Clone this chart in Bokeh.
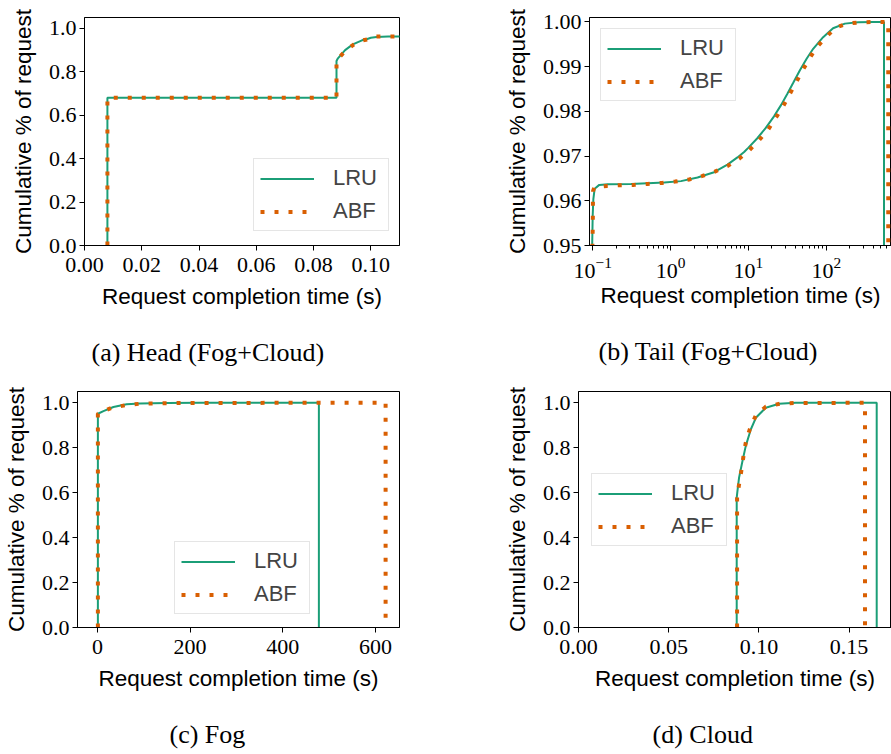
from bokeh.plotting import figure
from bokeh.models import (Range1d, Legend, LegendItem, Title, FixedTicker,
                          CustomJSTickFormatter, LogTickFormatter)
from bokeh.layouts import column, row
from bokeh.embed import file_html
from bokeh.resources import INLINE

# ---------------- data ----------------
# Fog+Cloud combined (panels a and b show the same distribution)
fc_lru_t = [0.008, 0.008, 0.088, 0.088, 0.0885, 0.091, 0.0937, 0.0969, 0.0985,
            0.100, 0.102, 0.106, 0.1215, 0.156, 0.31, 0.83, 1.36, 2.22, 3.62,
            5.38, 7.22, 8.8, 10.0, 13.0, 16.7, 21.3, 26.2, 31.5, 37.6, 45.8,
            55.6, 67.8, 91.0, 122.0, 173.0, 256.0, 400.0, 550.0, 550.0]
fc_lru_cdf = [0.0, 0.68, 0.68, 0.85, 0.862, 0.90, 0.926, 0.945, 0.95,
              0.9567, 0.9604, 0.9627, 0.96356, 0.96371, 0.96378, 0.9641, 0.9644,
              0.9652, 0.9664, 0.9681, 0.9697, 0.9709, 0.9719, 0.9740, 0.9763,
              0.9789, 0.9814, 0.9839, 0.9864, 0.9892, 0.9917, 0.9940, 0.9966,
              0.9986, 0.99963, 0.99993, 1.0, 1.0, 0.0]
fc_abf_t = [0.008, 0.008, 0.088, 0.088, 0.0885, 0.0912, 0.094, 0.097, 0.0995,
            0.1002, 0.1005, 0.1007, 0.1012, 0.105, 0.1525, 0.2307, 0.341, 0.507,
            0.774, 1.146, 1.73, 2.57, 3.70, 5.38, 7.59, 10.2, 13.7, 18.0, 22.8,
            28.1, 33.8, 40.4, 49.2, 59.8, 72.9, 98.0, 131.5, 186.0, 275.0, 429.0,
            624.0, 624.0]
fc_abf_cdf = [0.0, 0.68, 0.68, 0.85, 0.86, 0.898, 0.925, 0.944, 0.9513, 0.9542,
              0.957, 0.9596, 0.9622, 0.9630, 0.96333, 0.96349, 0.96356, 0.96378,
              0.9640, 0.9643, 0.96476, 0.96556, 0.96653, 0.96778, 0.9694, 0.97127,
              0.97356, 0.9760, 0.97874, 0.98126, 0.98385, 0.98630, 0.98911,
              0.99160, 0.9941, 0.99652, 0.99874, 0.99963, 0.99993, 1.0, 1.0, 0.0]

# Fog only
fog_lru_t = [1.0, 1.0, 13.0, 34.5, 63.0, 92.0, 150.0, 222.0, 478.0, 478.0]
fog_lru_cdf = [0.0, 0.951, 0.963, 0.981, 0.993, 0.997, 0.9985, 1.0, 1.0, 0.0]
fog_abf_t = [1.0, 1.0, 12.0, 32.4, 61.9, 92.0, 121.0, 180.0, 622.0, 622.0]
fog_abf_cdf = [0.0, 0.951, 0.962, 0.978, 0.9896, 0.9956, 0.997, 0.999, 1.0, 0.0]

# Cloud only
cloud_lru_t = [0.0877, 0.0877, 0.0881, 0.089, 0.0909, 0.0927, 0.0955, 0.0983,
               0.1038, 0.1112, 0.1204, 0.1653, 0.1653]
cloud_lru_cdf = [0.0, 0.578, 0.607, 0.667, 0.741, 0.807, 0.881, 0.933, 0.978,
                 0.9956, 1.0, 1.0, 0.0]
cloud_abf_t = [0.0879, 0.0879, 0.089, 0.0903, 0.0914, 0.0927, 0.0949, 0.0983,
               0.1038, 0.1116, 0.1195, 0.1588, 0.1588]
cloud_abf_cdf = [0.0, 0.578, 0.637, 0.699, 0.76, 0.822, 0.881, 0.944, 0.982,
                 0.9956, 0.9985, 1.0, 0.0]

series_names = ["LRU", "ABF"]
captions = ["(a) Head (Fog+Cloud)", "(b) Tail (Fog+Cloud)", "(c) Fog", "(d) Cloud"]
x_label = "Request completion time (s)"
y_label = "Cumulative % of request"

ticks_a_x = [0.0, 0.02, 0.04, 0.06, 0.08, 0.10]
ticks_unit_y = [0.0, 0.2, 0.4, 0.6, 0.8, 1.0]
ticks_b_x = [0.1, 1.0, 10.0, 100.0]
ticks_b_y = [0.95, 0.96, 0.97, 0.98, 0.99, 1.00]
ticks_c_x = [0, 200, 400, 600]
ticks_d_x = [0.0, 0.05, 0.10, 0.15]

# ---------------- styling ----------------
LRU_COLOR = "#1b9e77"
ABF_COLOR = "#d95f02"
SERIF = "Liberation Serif"
SANS = "Liberation Sans"


def fixed_fmt(d):
    return CustomJSTickFormatter(code="return tick.toFixed(%d);" % d)


def panel(width, height, borders, xr, yr, xticks, yticks, xfmt, yfmt,
          lru, abf, legend_loc, caption, cap_offset, x_type="linear",
          minor=None, xlabel_standoff=9):
    l, r, t, b = borders
    p = figure(width=width, height=height, x_range=Range1d(*xr),
               y_range=Range1d(*yr), x_axis_type=x_type,
               output_backend="svg", toolbar_location=None,
               min_border_left=l, min_border_right=r,
               min_border_top=t, min_border_bottom=b)
    p.grid.visible = False
    p.outline_line_color = "black"
    p.outline_line_alpha = 1.0
    p.outline_line_width = 1
    p.background_fill_color = "white"
    p.border_fill_color = "white"

    for ax in p.axis:
        ax.axis_line_color = "black"
        ax.axis_line_width = 1
        ax.major_tick_line_color = "black"
        ax.major_tick_out = 5
        ax.major_tick_in = 0
        ax.minor_tick_line_color = None
        ax.major_label_text_font = SERIF
        ax.major_label_text_font_size = "22px"
        ax.major_label_text_color = "black"
        ax.axis_label_text_font = SANS
        ax.axis_label_text_font_size = "22.5px"
        ax.axis_label_text_font_style = "normal"
        ax.axis_label_text_color = "black"

    p.xaxis.axis_label = x_label
    p.yaxis.axis_label = y_label
    p.xaxis.major_label_standoff = 7
    p.yaxis.major_label_standoff = 3
    p.xaxis.axis_label_standoff = xlabel_standoff
    p.yaxis.axis_label_standoff = 10

    if minor is not None:
        p.xaxis.ticker = FixedTicker(ticks=xticks, minor_ticks=minor)
        p.xaxis.minor_tick_line_color = "black"
        p.xaxis.minor_tick_out = 3
        p.xaxis.minor_tick_in = 0
    else:
        p.xaxis.ticker = FixedTicker(ticks=xticks)
    p.yaxis.ticker = FixedTicker(ticks=yticks)
    p.xaxis.formatter = xfmt
    p.yaxis.formatter = yfmt

    r1 = p.line(lru[0], lru[1], line_color=LRU_COLOR, line_width=2)
    r2 = p.line(abf[0], abf[1], line_color=ABF_COLOR, line_width=4,
                line_dash="4 10")

    legend = Legend(items=[LegendItem(label=series_names[0], renderers=[r1]),
                           LegendItem(label=series_names[1], renderers=[r2])],
                    location=legend_loc)
    legend.label_text_font = SANS
    legend.label_text_font_size = "22px"
    legend.glyph_width = 54
    legend.glyph_height = 23
    legend.label_height = 23
    legend.label_width = 49
    legend.label_standoff = 19
    legend.spacing = 7
    legend.padding = 6
    legend.margin = 0
    legend.border_line_color = "#cccccc"
    legend.border_line_width = 1
    legend.background_fill_color = "white"
    legend.background_fill_alpha = 0.8
    p.add_layout(legend, "center")

    # gap between the axis label and the sub-caption
    p.add_layout(Title(text=" ", text_font_size="7px"), "below")
    p.add_layout(Title(text=caption, align="left", offset=cap_offset,
                       text_font=SERIF, text_font_size="26px",
                       text_font_style="normal", text_color="black"), "below")
    return p


minor_log = [m * d for d in (0.1, 1.0, 10.0, 100.0) for m in range(2, 10)]

pa = panel(445, 377, (84, 46, 8, 132), (0.0, 0.11), (0.0, 1.05),
           ticks_a_x, ticks_unit_y, fixed_fmt(2), fixed_fmt(1),
           (fc_lru_t, fc_lru_cdf), (fc_abf_t, fc_abf_cdf),
           (169, 14), captions[0], 7)

pb = panel(446, 377, (144, 0, 17, 130), (0.091, 687.0), (0.95, 1.001),
           ticks_b_x, ticks_b_y, LogTickFormatter(), fixed_fmt(2),
           (fc_lru_t, fc_lru_cdf), (fc_abf_t, fc_abf_cdf),
           (11, 144), captions[1], 9, x_type="log", minor=minor_log,
           xlabel_standoff=2)

pc = panel(445, 377, (77, 46, 14, 127), (-43.0, 652.0), (0.0, 1.05),
           ticks_c_x, ticks_unit_y, fixed_fmt(0), fixed_fmt(1),
           (fog_lru_t, fog_lru_cdf), (fog_abf_t, fog_abf_cdf),
           (97, 13), captions[2], 92)

pd_ = panel(446, 377, (133, 0, 14, 127), (0.0, 0.1735), (0.0, 1.05),
            ticks_d_x, ticks_unit_y, fixed_fmt(2), fixed_fmt(1),
            (cloud_lru_t, cloud_lru_cdf), (cloud_abf_t, cloud_abf_cdf),
            (13, 81), captions[3], 74)

layout = column(row(pa, pb), row(pc, pd_))
open("out.html", "w").write(file_html(layout, INLINE))
